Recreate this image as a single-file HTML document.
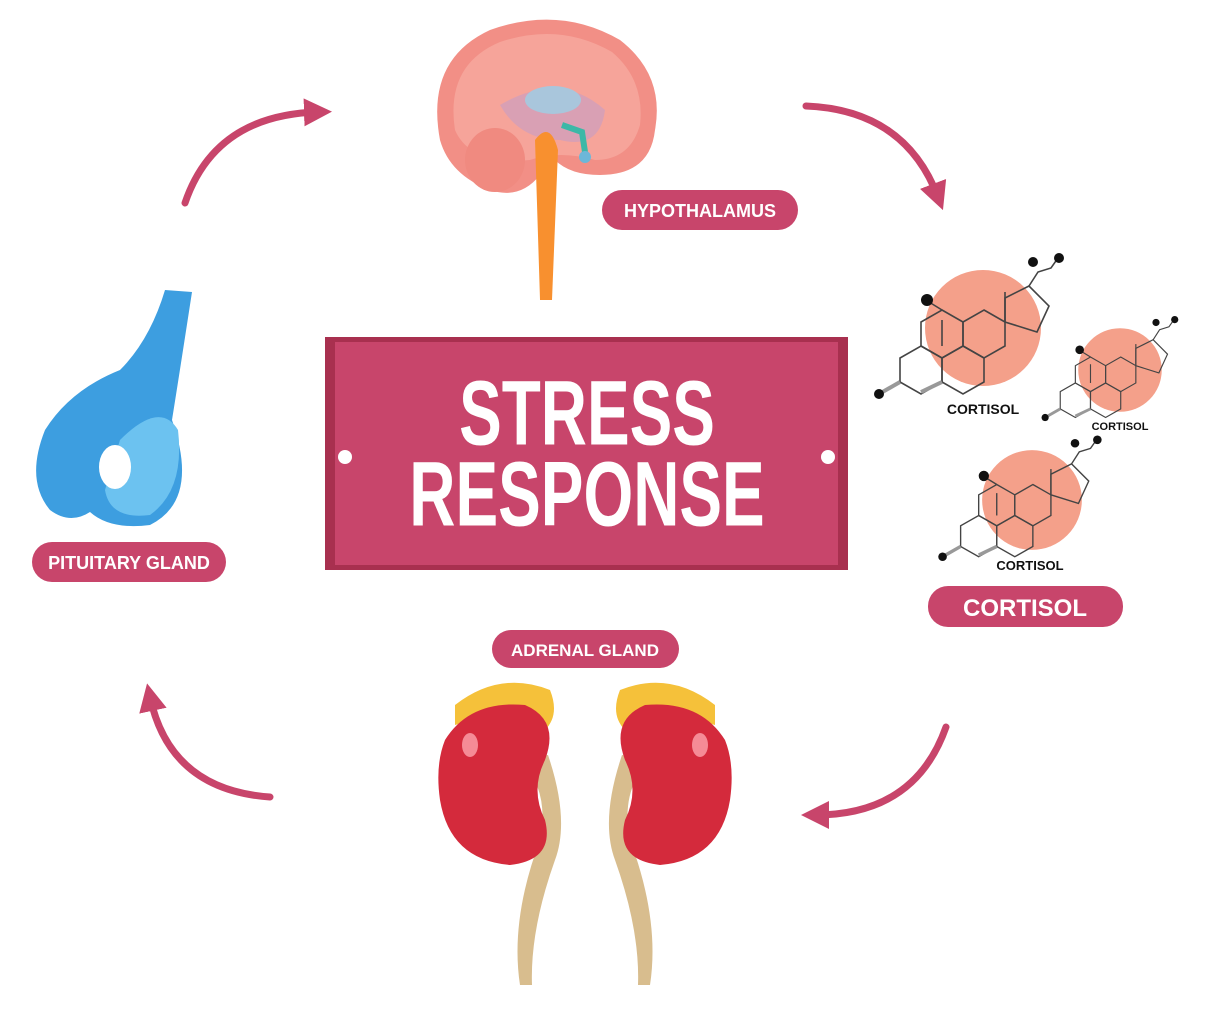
<!DOCTYPE html>
<html><head><meta charset="utf-8"><style>
html,body{margin:0;padding:0;background:#fff;}
svg{display:block;font-family:"Liberation Sans",sans-serif;}
</style></head><body>
<svg width="1224" height="1012" viewBox="0 0 1224 1012" xmlns="http://www.w3.org/2000/svg">
<defs>
<marker id="ah" markerWidth="4" markerHeight="4" refX="2" refY="2" orient="auto" markerUnits="strokeWidth">
<path d="M0,0 L4,2 L0,4 z" fill="#c8456b"/></marker>
<g id="hexA"><polygon points="0,-24 21,-12 21,12 0,24 -21,12 -21,-12" fill="none" stroke="#444" stroke-width="1.6"/></g>
<g id="mol">
<circle cx="0" cy="0" r="58" fill="#f4a08a"/>
<use href="#hexA" x="-62" y="42"/>
<use href="#hexA" x="-20" y="42"/>
<use href="#hexA" x="1" y="6"/>
<use href="#hexA" x="-41" y="6"/>
<polygon points="22,-6 22,-30 46,-42 66,-22 54,4" fill="none" stroke="#444" stroke-width="1.6"/>
<line x1="-41" y1="18" x2="-41" y2="-8" stroke="#444" stroke-width="1.6"/>
<line x1="22" y1="-6" x2="22" y2="-36" stroke="#444" stroke-width="1.6"/>
<line x1="-83" y1="54" x2="-104" y2="66" stroke="#999" stroke-width="4"/>
<line x1="-41" y1="54" x2="-62" y2="64" stroke="#999" stroke-width="4"/>
<circle cx="-104" cy="66" r="5" fill="#111"/>
<line x1="-41" y1="-18" x2="-54" y2="-26" stroke="#444" stroke-width="1.6"/>
<circle cx="-56" cy="-28" r="6" fill="#111"/>
<path d="M46,-42 L55,-56 L68,-60 L75,-70" fill="none" stroke="#444" stroke-width="1.6"/>
<circle cx="50" cy="-66" r="5" fill="#111"/><circle cx="76" cy="-70" r="5" fill="#111"/>
</g>
</defs>
<g fill="none" stroke="#c8456b" stroke-width="7" stroke-linecap="round">
<path d="M185,203 Q215,115 318,112" marker-end="url(#ah)"/>
<path d="M806,106 Q905,110 938,197" marker-end="url(#ah)"/>
<path d="M946,727 Q915,815 815,815" marker-end="url(#ah)"/>
<path d="M270,797 Q170,790 150,697" marker-end="url(#ah)"/>
</g>
<!-- brain -->
<path d="M440,140 Q425,60 490,30 Q560,5 620,40 Q665,75 655,130 Q650,175 600,175 Q570,175 555,160 L540,175 Q520,200 490,190 Q450,175 440,140z" fill="#f28f86"/>
<path d="M455,130 Q445,65 500,42 Q560,22 612,52 Q645,80 640,125 Q630,160 595,160 Q560,150 530,160 Q470,165 455,130z" fill="#f6a49a"/>
<ellipse cx="495" cy="160" rx="30" ry="32" fill="#f08a80"/>
<path d="M500,105 Q560,70 605,110 Q600,150 560,140 Q520,140 500,105z" fill="#d9a0b4"/>
<ellipse cx="553" cy="100" rx="28" ry="14" fill="#a9c6dc"/>
<path d="M535,140 Q550,120 558,150 L552,300 L540,300 Z" fill="#f8902f"/>
<path d="M562,125 L582,132 L585,152" stroke="#3cb8a7" stroke-width="6" fill="none"/>
<circle cx="585" cy="157" r="6" fill="#6db7d8"/>
<!-- pituitary -->
<path d="M165,290 L192,292 Q180,370 172,420 Q200,500 150,525 Q110,530 90,512 Q70,525 50,510 Q25,480 45,430 Q70,390 120,370 Q150,340 165,290z" fill="#3d9ee0"/>
<path d="M120,440 Q160,400 178,430 Q185,490 150,515 Q110,520 105,490 Z" fill="#6cc2f0"/>
<ellipse cx="115" cy="467" rx="16" ry="22" fill="#fff"/>
<!-- kidneys -->
<path d="M520,985 Q510,920 540,840 Q550,790 520,760 L548,755 Q570,820 555,860 Q530,930 532,985z" fill="#d8bd8e"/>
<path d="M650,985 Q660,920 630,840 Q620,790 650,760 L622,755 Q600,820 615,860 Q640,930 638,985z" fill="#d8bd8e"/>
<path d="M455,705 Q500,670 550,690 Q560,715 545,730 Q500,710 455,725z" fill="#f5c13a"/>
<path d="M715,705 Q670,670 620,690 Q610,715 625,730 Q670,710 715,725z" fill="#f5c13a"/>
<path d="M445,740 Q470,700 525,705 Q560,720 545,760 Q530,790 545,820 Q555,860 510,865 Q450,860 440,800 Q435,765 445,740z" fill="#d42a3c"/>
<path d="M725,740 Q700,700 645,705 Q610,720 625,760 Q640,790 625,820 Q615,860 660,865 Q720,860 730,800 Q735,765 725,740z" fill="#d42a3c"/>
<ellipse cx="470" cy="745" rx="8" ry="12" fill="#f58b96"/>
<ellipse cx="700" cy="745" rx="8" ry="12" fill="#f58b96"/>
<!-- molecules -->
<use href="#mol" transform="translate(983,328)"/>
<use href="#mol" transform="translate(1120,370) scale(0.72)"/>
<use href="#mol" transform="translate(1032,500) scale(0.86)"/>
<text x="983" y="414" font-size="14" font-weight="bold" text-anchor="middle" fill="#111">CORTISOL</text>
<text x="1120" y="430" font-size="11" font-weight="bold" text-anchor="middle" fill="#111">CORTISOL</text>
<text x="1030" y="570" font-size="13" font-weight="bold" text-anchor="middle" fill="#111">CORTISOL</text>
<!-- banner -->
<rect x="325" y="337" width="523" height="233" fill="#a8304f"/>
<rect x="335" y="342" width="503" height="223" fill="#c8456b"/>
<circle cx="345" cy="457" r="7" fill="#fff"/><circle cx="828" cy="457" r="7" fill="#fff"/>
<g transform="translate(587,0) scale(0.78,1.12)" fill="#fff" font-weight="bold" text-anchor="middle" font-size="82">
<text x="0" y="397">STRESS</text>
<text x="0" y="469">RESPONSE</text>
</g>
<g fill="#c8456b">
<rect x="602" y="190" width="196" height="40" rx="20"/>
<rect x="32" y="542" width="194" height="40" rx="20"/>
<rect x="928" y="586" width="195" height="41" rx="20"/>
<rect x="492" y="630" width="187" height="38" rx="19"/>
</g>
<g fill="#fff" font-weight="bold" text-anchor="middle">
<text x="700" y="217" font-size="18">HYPOTHALAMUS</text>
<text x="129" y="569" font-size="18">PITUITARY GLAND</text>
<text x="1025" y="616" font-size="24">CORTISOL</text>
<text x="585" y="656" font-size="17">ADRENAL GLAND</text>
</g>
</svg>
</body></html>
